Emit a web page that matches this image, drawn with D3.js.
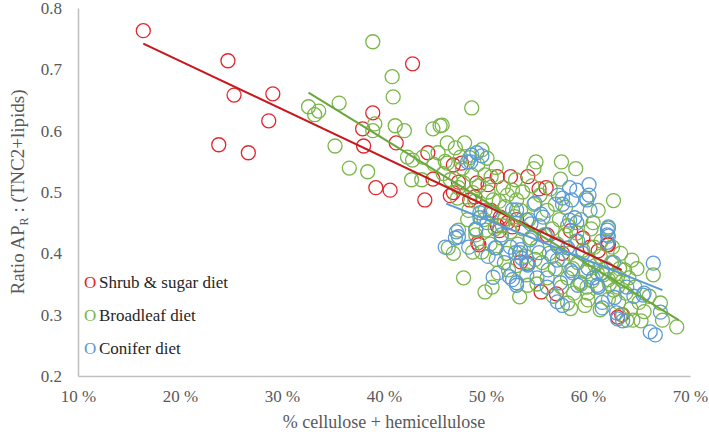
<!DOCTYPE html>
<html><head><meta charset="utf-8">
<script src="https://cdn.jsdelivr.net/npm/d3@7"></script>
<style>
html,body{margin:0;padding:0;background:#fff;}
</style></head>
<body><svg id="chart" width="709" height="432"></svg>
<script>
const xTicks = [10,20,30,40,50,60,70];
const yTicks = [0.2,0.3,0.4,0.5,0.6,0.7,0.8];
const seriesNames = ["Shrub & sugar diet","Broadleaf diet","Conifer diet"];

const shrub = [[16.4,0.763],[24.7,0.714],[25.3,0.658],[29.1,0.660],[28.7,0.616],[23.8,0.577],[26.7,0.564],[42.8,0.709],[38.9,0.629],[37.9,0.603],[38.0,0.575],[41.2,0.580],[39.2,0.507],[40.6,0.503],[44.3,0.564],[46.8,0.544],[44.8,0.521],[44.0,0.487],[46.8,0.499],[47.3,0.516],[49.1,0.515],[50.2,0.512],[51.1,0.525],[52.4,0.525],[48.4,0.487],[51.1,0.445],[48.9,0.492],[51.4,0.459],[52.1,0.450],[49.2,0.417],[47.6,0.547],[54.1,0.525],[55.2,0.505],[55.9,0.507],[46.5,0.494],[49.3,0.414],[51.3,0.437],[52.6,0.443],[53.4,0.386],[55.4,0.337],[56.9,0.334],[54.1,0.384],[58.3,0.437],[62.0,0.414],[61.0,0.404],[63.3,0.300],[61.9,0.414],[62.9,0.296],[56.0,0.430],[57.5,0.400],[59.5,0.425],[60.2,0.410],[50.5,0.470],[53.0,0.455]];

const broadleaf = [[38.9,0.745],[40.8,0.688],[40.9,0.655],[32.6,0.639],[33.6,0.632],[33.2,0.626],[35.6,0.645],[35.2,0.575],[36.6,0.539],[38.4,0.533],[39.1,0.611],[38.9,0.600],[41.1,0.608],[42.0,0.600],[42.3,0.557],[42.8,0.552],[42.7,0.520],[48.6,0.637],[44.8,0.603],[45.5,0.608],[46.2,0.580],[47.0,0.572],[49.6,0.569],[43.8,0.557],[45.3,0.564],[47.5,0.557],[48.4,0.556],[46.2,0.547],[43.7,0.520],[47.7,0.539],[48.6,0.528],[49.9,0.528],[47.3,0.507],[48.7,0.499],[51.7,0.507],[52.6,0.503],[50.7,0.487],[51.9,0.476],[53.0,0.487],[57.4,0.549],[58.8,0.538],[57.3,0.521],[62.5,0.486],[54.9,0.549],[54.7,0.538],[45.7,0.609],
[49.9,0.337],[51.2,0.368],[48.7,0.402],[49.6,0.402],[47.3,0.438],[46.3,0.409],[52.2,0.373],[49.0,0.438],[50.0,0.438],
[53.3,0.329],[54.1,0.348],[58.0,0.319],[60.0,0.324],[61.2,0.308],[63.4,0.300],[64.4,0.291],[63.8,0.291],[64.3,0.389],[63.6,0.373],[68.7,0.280],[67.1,0.319],[67.3,0.291],[66.4,0.365],[62.0,0.441],[60.5,0.450],[58.9,0.433],[60.9,0.368],[62.0,0.357],[62.9,0.362],[62.5,0.340],[59.2,0.353],[59.9,0.345],
[46.5,0.520],[47.2,0.490],[47.8,0.515],[48.3,0.470],[48.9,0.485],[49.3,0.510],[49.8,0.455],[50.2,0.500],[50.6,0.465],[50.9,0.440],[51.3,0.485],[51.5,0.425],[51.8,0.455],[52.1,0.495],[52.4,0.435],[52.8,0.460],[53.1,0.415],[53.4,0.470],[53.6,0.440],[53.9,0.395],[54.2,0.455],[54.4,0.425],[54.7,0.480],[55.0,0.410],[55.2,0.445],[55.5,0.385],[55.7,0.430],[56.0,0.470],[56.2,0.400],[56.5,0.440],[56.8,0.375],[57.0,0.415],[57.2,0.455],[57.5,0.390],[57.8,0.430],[58.0,0.360],[58.2,0.400],[58.5,0.375],[58.8,0.420],[59.0,0.385],[59.3,0.350],[59.5,0.405],[59.8,0.370],[60.1,0.390],[60.4,0.355],[60.7,0.380],[61.0,0.345],[61.2,0.395],[61.5,0.365],[61.8,0.375],[62.1,0.350],[62.3,0.385],[62.6,0.365],[62.9,0.345],[63.1,0.375],[63.4,0.355],[63.7,0.335],[64.0,0.360],[64.6,0.345],[65.0,0.320],[65.5,0.305],[66.0,0.330],[49.0,0.430],[50.4,0.415],[51.0,0.390],[52.0,0.400],[53.0,0.380],[54.0,0.365],[55.0,0.350],[56.0,0.360],[57.4,0.345],[58.6,0.335],[60.0,0.335],[55.3,0.495],[56.3,0.505],[57.8,0.475],[59.3,0.455],[60.3,0.440],[61.3,0.420],[62.4,0.410],[63.2,0.400],[61.0,0.470],[59.8,0.490],[56.8,0.480],[52.9,0.520],[51.0,0.540],[50.1,0.555],[53.6,0.500],[54.5,0.510],[46.0,0.550],[44.9,0.545],[45.8,0.530],[47.9,0.580],[49.2,0.545],[50.5,0.525],[49.9,0.470],[48.2,0.455],[51.6,0.445],[54.8,0.390],[56.6,0.330],[58.3,0.310],[59.7,0.315],[62.0,0.325],[63.0,0.320],[64.2,0.310],[65.2,0.290],[64.8,0.375],[60.6,0.410],[58.0,0.445],[46.8,0.400],[47.8,0.360],[50.6,0.345]];

const conifer = [[46.0,0.410],[47.1,0.435],[50.9,0.409],[50.7,0.361],[52.6,0.357],[53.0,0.348],[52.4,0.410],[48.2,0.549],[49.1,0.564],[49.6,0.559],[48.5,0.549],
[66.4,0.384],[66.1,0.272],[66.6,0.267],[67.1,0.304],[62.8,0.303],[62.9,0.293],[61.4,0.311],[57.0,0.321],[58.5,0.368],[57.3,0.352],[60.9,0.348],[61.9,0.430],[61.9,0.418],[65.4,0.332],[53.0,0.352],[52.3,0.362],[53.3,0.401],[54.3,0.422],[57.0,0.389],[58.2,0.454],[58.9,0.450],[55.2,0.401],
[58.2,0.507],[58.9,0.503],[60.1,0.512],[60.1,0.495],[57.1,0.495],[57.5,0.490],[58.4,0.487],[54.8,0.482],[53.0,0.471],[58.7,0.458],[61.9,0.438],[55.6,0.459],[54.0,0.454],
[49.4,0.466],[50.4,0.466],[52.6,0.471],[47.3,0.427],[48.6,0.560],
[53.5,0.392],[54.0,0.383],[57.5,0.315],[59.0,0.348],[61.0,0.345],[61.4,0.320],[62.6,0.328],[63.4,0.290],[65.5,0.335],[51.0,0.409],[54.4,0.448],[55.4,0.464],[57.5,0.480],[59.9,0.487],[60.2,0.470],[62.0,0.428],[62.0,0.443],[52.9,0.401],[53.4,0.406],[49.4,0.458],[50.1,0.450],[58.0,0.409],[59.0,0.420],[57.0,0.412],[60.0,0.376],[61.4,0.368],[58.3,0.372],[54.1,0.381],[56.1,0.373],
[47.0,0.425],[49.0,0.440],[51.5,0.430],[55.8,0.430],[56.5,0.395],[59.5,0.400],[60.5,0.360],[62.5,0.385],[63.8,0.345],[64.5,0.330],[56.0,0.345],[55.0,0.360],[51.8,0.385],[50.2,0.395],[48.3,0.410]];

// trend line end points
const shrubTrend = [[16.4,0.742],[63.3,0.373]];
const broadleafTrend = [[32.6,0.662],[68.9,0.291]];
const coniferTrend = [[46.1,0.481],[67.3,0.340]];

const markerColors = ["#e3262d","#7ab648","#5b9bd5"];
const lineColors = ["#c8161d","#6aa83e","#5b9bd5"];
const FONT = "Liberation Serif";

const svg = d3.select("#chart").attr("font-family",FONT);
const x = d3.scaleLinear().domain([10,70]).range([78,690]);
const y = d3.scaleLinear().domain([0.2,0.8]).range([376,8]);

// axes
const xa = svg.append("g").attr("transform","translate(0,376)")
  .call(d3.axisBottom(x).tickValues(xTicks).tickSize(0).tickPadding(14).tickFormat(d=>d+" %"));
const ya = svg.append("g").attr("transform","translate(78,0)")
  .call(d3.axisLeft(y).tickValues(yTicks).tickSize(0).tickPadding(16).tickFormat(d3.format(".1f")));
[xa,ya].forEach(g=>{
  g.attr("font-family",FONT).attr("font-size",17);
  g.select(".domain").attr("stroke","#bfbfbf").attr("stroke-width",1.5);
  g.selectAll("text").attr("fill","#595959").attr("font-family",FONT).attr("font-size",17);
});

// points
const all = [shrub, broadleaf, conifer];
all.forEach((pts,i)=>{
  svg.append("g").selectAll("circle").data(pts).join("circle")
    .attr("cx",d=>x(d[0])).attr("cy",d=>y(d[1])).attr("r",7)
    .attr("fill","none").attr("stroke",markerColors[i]).attr("stroke-width",1.3);
});

// trend lines
[shrubTrend, broadleafTrend, coniferTrend].forEach((t,i)=>{
  svg.append("path").datum(t)
    .attr("d",d3.line().x(d=>x(d[0])).y(d=>y(d[1])))
    .attr("stroke",lineColors[i]).attr("stroke-width",2).attr("fill","none");
});

// legend
const leg = svg.append("g").attr("font-family",FONT);
seriesNames.forEach((n,i)=>{
  const gy = 288 + i*33;
  leg.append("text").attr("x",84).attr("y",gy).attr("fill",markerColors[i]).attr("font-size",17).text("O");
  leg.append("text").attr("x",99).attr("y",gy).attr("fill","#262626").attr("font-size",17).text(n);
});

// axis titles
svg.append("text").attr("x",384).attr("y",428).attr("text-anchor","middle").attr("font-family",FONT)
  .attr("fill","#595959").attr("font-size",18).text("% cellulose + hemicellulose");
const yt = svg.append("text").attr("transform","translate(24,192) rotate(-90)").attr("text-anchor","middle")
  .attr("font-family",FONT).attr("fill","#595959").attr("font-size",19);
yt.append("tspan").text("Ratio AP");
yt.append("tspan").attr("dy",4).attr("font-size",12).text("R");
yt.append("tspan").attr("dy",-4).text(" : (TNC2+lipids)");
</script></body></html>
